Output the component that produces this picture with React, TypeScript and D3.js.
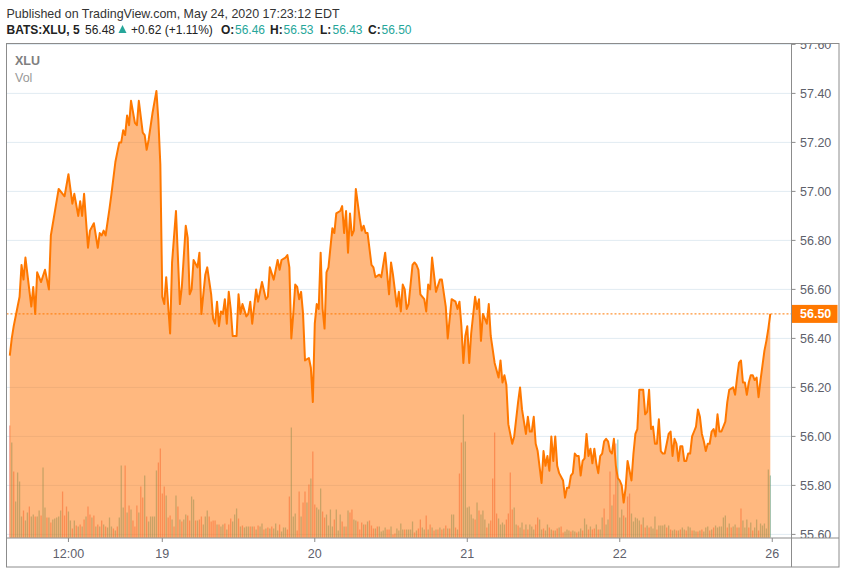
import React from "react";
import * as d3 from "d3";

// Price series: [5-minute bar index counted from May 18 09:30, price]
const day18: [number, number][] = [
  [0,56.33],[1,56.40],[2,56.45],[4,56.53],[5,56.57],[6,56.70],[7,56.64],[8,56.73],[11,56.53],[12,56.61],
  [13,56.50],[14,56.67],[16,56.63],[18,56.68],[20,56.60],[21,56.82],[25,57.01],[28,56.98],[30,57.07],[32,56.95],
  [33,56.99],[35,56.90],[36,56.96],[37,56.90],[38,56.99],[40,56.77],[41,56.84],[43,56.87],[45,56.77],[46,56.83],
  [47,56.82],[48,56.84],[49,56.82],[51,56.93],[52,56.99],[54,57.12],[56,57.20],[57,57.20],[58,57.25],[59,57.23],
  [60,57.31],[61,57.27],[62,57.37],[64,57.28],[65,57.27],[66,57.37],[68,57.24],[69,57.23],[70,57.17],[71,57.21],
  [73,57.32],[75,57.41],[76,57.29],[77,57.11],
];
const day19: [number, number][] = [
  [78,56.57],[79,56.54],[80,56.65],[82,56.42],[83,56.71],[85,56.92],[87,56.54],[88,56.61],[90,56.86],[91,56.81],
  [92,56.58],[93,56.60],[94,56.72],[96,56.69],[97,56.75],[98,56.50],[100,56.66],[101,56.69],[103,56.58],[104,56.48],
  [105,56.46],[106,56.55],[107,56.45],[108,56.51],[109,56.50],[110,56.56],[111,56.46],[112,56.59],[113,56.52],[114,56.41],
  [116,56.41],[117,56.58],[118,56.50],[119,56.54],[121,56.49],[122,56.50],[123,56.55],[124,56.46],[126,56.60],[127,56.55],
  [129,56.63],[131,56.56],[132,56.57],[133,56.69],[135,56.64],[136,56.68],[137,56.72],[138,56.68],[139,56.72],[141,56.73],
  [142,56.74],[143,56.69],[144,56.40],[145,56.50],[146,56.62],[147,56.61],[148,56.56],[149,56.59],[150,56.50],[151,56.31],
  [153,56.32],[154,56.28],[155,56.14],
];
const day20: [number, number][] = [
  [156,56.46],[157,56.54],[158,56.52],[159,56.75],[160,56.52],[161,56.44],[162,56.67],[163,56.69],[165,56.85],[166,56.83],
  [167,56.91],[169,56.92],[170,56.94],[171,56.83],[172,56.92],[173,56.75],[174,56.91],[175,56.82],[176,56.84],[177,57.01],
  [179,56.89],[180,56.84],[181,56.86],[182,56.83],[183,56.83],[185,56.70],[186,56.69],[187,56.65],[189,56.66],[190,56.65],
  [192,56.75],[194,56.58],[195,56.71],[196,56.66],[198,56.53],[199,56.59],[200,56.51],[201,56.62],[202,56.60],[203,56.52],
  [204,56.54],[206,56.70],[207,56.71],[208,56.70],[209,56.68],[210,56.58],[212,56.56],[213,56.51],[214,56.62],[215,56.60],
  [216,56.73],[218,56.59],[220,56.64],[221,56.64],[223,56.53],[224,56.40],[226,56.56],[228,56.55],[229,56.52],[230,56.55],
  [231,56.45],[232,56.30],[233,56.41],
];
const day21: [number, number][] = [
  [234,56.45],[235,56.30],[236,56.42],[238,56.57],[239,56.52],[240,56.56],[241,56.39],[242,56.50],[244,56.46],[245,56.54],
  [246,56.41],[248,56.30],[250,56.24],[251,56.31],[252,56.22],[253,56.25],[254,56.21],[255,56.05],[256,56.01],[257,55.97],
  [258,56.00],[260,56.14],[261,56.20],[262,56.11],[264,56.01],[265,56.08],[266,56.02],[267,56.02],[268,56.08],[269,55.97],
  [270,55.94],[272,55.81],[273,55.94],[274,55.88],[275,55.92],[276,55.86],[277,56.00],[278,55.90],[279,56.00],[280,55.88],
  [281,55.85],[283,55.82],[284,55.75],[285,55.79],[286,55.79],[287,55.84],[288,55.85],[289,55.93],[290,55.92],[291,55.92],
  [292,55.84],[293,55.90],[294,55.91],[295,56.01],[296,55.92],[297,55.95],[298,55.89],[299,55.95],[300,55.89],[301,55.85],
  [302,55.92],[303,55.93],[304,55.98],[305,55.99],[306,55.98],[307,55.94],[308,55.93],[309,55.99],[310,55.88],[311,55.83],
];
const day22: [number, number][] = [
  [312,55.82],[313,55.80],[314,55.73],[315,55.79],[316,55.90],[317,55.86],[318,55.82],[319,55.93],[320,56.01],[321,56.03],
  [322,56.19],[324,56.19],[325,56.09],[326,56.10],[327,56.19],[328,56.03],[329,56.04],[330,55.97],[331,55.97],[332,56.07],
  [333,55.94],[334,55.93],[335,55.93],[336,55.97],[337,56.01],[338,56.02],[339,55.92],[340,55.99],[341,55.97],[342,55.90],
  [343,55.96],[344,55.96],[345,55.90],[346,55.90],[347,55.93],[348,55.93],[349,56.00],[350,56.02],[351,56.04],[352,56.11],
  [353,56.08],[354,56.01],[355,55.98],[356,55.94],[357,55.97],[358,55.97],[359,56.02],[360,56.03],[361,56.00],[362,56.09],
  [363,56.02],[364,56.02],[365,56.04],[366,56.06],[367,56.14],[368,56.19],[370,56.20],[371,56.17],[372,56.24],[373,56.30],
  [374,56.31],[375,56.22],[376,56.22],[377,56.17],[378,56.22],[379,56.25],[380,56.25],[381,56.23],[382,56.24],[383,56.16],
  [384,56.23],[385,56.29],[386,56.35],[387,56.39],[388,56.44],[389,56.50],
];

// Volume per 5-minute bar (thousand shares); sign = bar direction (+ up, - down)
const vol18 = [
  -112,95,-66,36,65,56,21,-27,17,25, -31,21,23,-21,21,27,-22,70,30,-20,
  20,-15,18,19,20,21,27,-46,-22,-31, 26,17,-9,17,-12,11,-13,11,-18,21,
  -31,-23,20,-22,11,-13,11,-17,13,-11, 10,20,11,-9,7,-11,20,72,30,-72,
  25,-32,28,-17,-11,-32,25,-51,-40,62, -21,16,21,21,21,67,-75,-89,
];
const vol19 = [
  -44,-51,42,-20,-22,18,-11,42,-31,18, -16,18,23,-22,-17,41,38,-17,17,-18,
  -21,13,21,27,-21,-16,-17,-17,13,-13, 11,13,-14,8,-13,-19,16,23,29,-19,
  11,-12,10,11,11,-11,11,-11,8,-12, 11,14,-8,9,-10,9,-11,9,14,7,
  -13,6,10,10,-8,-41,110,21,24,-7, -46,21,-35,-46,35,-53,59,-86,
];
const vol20 = [
  -33,30,28,49,-26,-20,23,12,28,11, -18,28,7,23,-16,11,-11,27,-25,-28,
  18,17,-16,-8,-15,13,-13,16,-17,-12, -9,9,-11,11,6,7,10,-8,-8,11,
  -3,-4,9,7,14,8,-8,8,8,8, 16,-5,7,-9,-18,10,8,-22,8,-13,
  10,-7,8,-8,10,-8,9,-12,9,-9, 23,23,-10,8,-64,-95,123,96,
];
const vol21 = [
  30,31,23,19,-18,35,-27,23,27,18, -10,14,-17,-59,-105,-24,19,13,15,13,
  -18,-24,-65,-28,30,13,-12,10,15,-8, 13,-8,13,11,8,-13,-20,18,8,-9,
  7,13,-10,8,-7,7,-9,10,-11,-5, 6,8,7,-6,7,6,-5,6,9,-7,
  19,13,-8,11,-8,-9,13,-8,8,20, -29,13,18,-66,32,-43,-94,98,
];
const vol22 = [
  20,28,-22,20,-41,-44,24,16,20,19, 17,-13,20,-10,12,-10,11,9,21,-8,
  12,12,12,13,-10,12,-8,7,8,-7, 7,-8,10,8,-7,11,10,-7,7,6,
  -6,7,-8,6,10,11,-7,8,-10,12, 10,11,11,20,22,-10,14,-10,11,13,
  -10,10,-29,17,10,18,-10,15,-7,10, 18,-7,14,12,14,9,68,62,
];

const priceTicks = [55.6, 55.8, 56.0, 56.2, 56.4, 56.6, 56.8, 57.0, 57.2, 57.4, 57.6];
const timeTickBars = [30, 78, 156, 234, 312, 390];
const timeTickLabels = ["12:00", "19", "20", "21", "22", "26"];
const lastPrice = 56.5;

const FONT = "'Liberation Sans', Arial, sans-serif";
const TEAL = "#26a69a";

export default function App() {
  const W = 846, H = 574;
  const left = 6.5, right = 791.5, top = 43.5, bottom = 538, outerR = 839, outerB = 567;

  const prices = [...day18, ...day19, ...day20, ...day21, ...day22];
  const volumes = [...vol18, ...vol19, ...vol20, ...vol21, ...vol22];

  const x = d3.scaleLinear().domain([0, 390]).range([9.8, 772.25]);
  const y = d3.scaleLinear().domain([55.6, 57.6]).range([534.4, 44.4]);
  const yv = d3.scaleLinear().domain([0, 125]).range([537.5, 412.5]);

  const line = d3.line<[number, number]>().x(d => x(d[0])).y(d => y(d[1]));
  const area = d3.area<[number, number]>().x(d => x(d[0])).y0(bottom).y1(d => y(d[1]));

  const grey = "#8c8c8c";
  const labelColor = "#5d606b";

  // header pieces: [text, x, bold, colour]
  const header2: [string, number, boolean, string][] = [
    ["BATS:XLU, 5", 6.5, true, "#222"],
    ["56.48", 85, false, "#222"],
    ["+0.62 (+1.11%)", 131, false, "#222"],
    ["O:", 221, true, "#222"],
    ["56.46", 235, false, TEAL],
    ["H:", 270, true, "#222"],
    ["56.53", 283.5, false, TEAL],
    ["L:", 320, true, "#222"],
    ["56.43", 332.5, false, TEAL],
    ["C:", 368, true, "#222"],
    ["56.50", 381.5, false, TEAL],
  ];

  return (
    <svg width={W} height={H} style={{ position: "absolute", left: 0, top: 0, background: "#fff" }} fontFamily={FONT}>
      <defs>
        <clipPath id="plot"><rect x={left} y={top} width={right - left} height={bottom - top} /></clipPath>
        <clipPath id="paxis"><rect x={right} y={top} width={outerR - right} height={bottom - top} /></clipPath>
      </defs>
      <rect x={0} y={0} width={W} height={H} fill="#fff" />

      {/* header */}
      <text x={6.5} y={18} fontSize={13.5} fill="#333" textLength={333} lengthAdjust="spacingAndGlyphs">
        Published on TradingView.com, May 24, 2020 17:23:12 EDT
      </text>
      <text y={34} fontSize={12}>
        {header2.map(([t, hx, b, c]) => (
          <tspan key={t + hx} x={hx} fontWeight={b ? "bold" : "normal"} fill={c}>{t}</tspan>
        ))}
      </text>
      <path d="M118.5,33 L122.5,25 L126.5,33 Z" fill={TEAL} />

      <g clipPath="url(#plot)">
        {priceTicks.map(t => (
          <line key={t} x1={left} x2={right} y1={y(t)} y2={y(t)} stroke="#e1ebf2" strokeWidth={1} />
        ))}
        {volumes.map((v, i) => (
          <rect key={i} x={x(i) - 0.65} width={1.3} y={yv(Math.abs(v))} height={yv(0) - yv(Math.abs(v))}
            fill={v >= 0 ? "rgba(38,166,154,0.5)" : "rgba(239,83,80,0.5)"} />
        ))}
        <path d={area(prices) || ""} fill="rgba(255,113,0,0.5)" />
        <path d={line(prices) || ""} fill="none" stroke="#ff7800" strokeWidth={2} strokeLinejoin="round" />
        <line x1={left} x2={right} y1={y(lastPrice)} y2={y(lastPrice)} stroke="#ff7800" strokeWidth={1} strokeDasharray="2,2" />
        <text x={15} y={65} fontSize={12.5} fontWeight="bold" fill="#7f7f7f">XLU</text>
        <text x={15} y={82} fontSize={12.5} fill="#999">Vol</text>
      </g>

      {/* price axis */}
      <g clipPath="url(#paxis)">
        {priceTicks.map(t => (
          <g key={t}>
            <line x1={right} x2={right + 4} y1={y(t)} y2={y(t)} stroke={grey} />
            <text x={800} y={y(t) + 4.5} fontSize={12.5} fill={labelColor}>{t.toFixed(2)}</text>
          </g>
        ))}
        <rect x={right} y={y(lastPrice) - 9} width={outerR - right - 1.5} height={18} fill="#ff7800" />
        <text x={800} y={y(lastPrice) + 4.5} fontSize={12.5} fontWeight="bold" fill="#fff">{lastPrice.toFixed(2)}</text>
      </g>

      {/* time axis */}
      {timeTickBars.map((b, i) => (
        <g key={b}>
          <line x1={x(b)} x2={x(b)} y1={bottom} y2={bottom + 4} stroke={grey} />
          <text x={x(b)} y={558} fontSize={12.5} fill={labelColor} textAnchor="middle">{timeTickLabels[i]}</text>
        </g>
      ))}

      {/* frame */}
      <rect x={left} y={top} width={outerR - left} height={outerB - top} fill="none" stroke={grey} strokeWidth={1} />
      <line x1={right} x2={right} y1={top} y2={outerB} stroke={grey} />
      <line x1={left} x2={outerR} y1={bottom} y2={bottom} stroke={grey} />
    </svg>
  );
}
